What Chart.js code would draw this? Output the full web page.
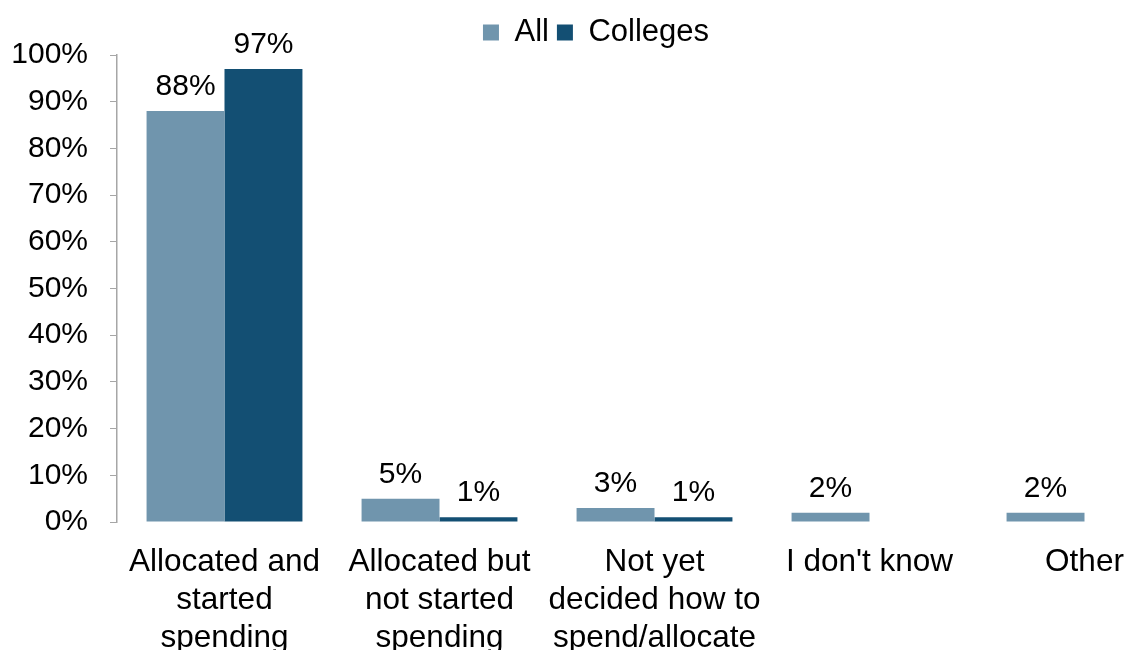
<!DOCTYPE html>
<html>
<head>
<meta charset="utf-8">
<script src="https://cdn.jsdelivr.net/npm/chart.js@4"></script>
<style>
	html, body { margin: 0; padding: 0; background: #fff; overflow: hidden; }
	#wrap { width: 1200px; height: 657px; }
</style>
</head>
<body>
<div id="wrap"><canvas id="chartDisplay"></canvas></div>
<script>
// categories (multi-line labels as drawn)
var categories = [
	["Allocated and", "started", "spending"],
	["Allocated but", "not started", "spending"],
	["Not yet", "decided how to", "spend/allocate"],
	"I don't know",
	"Other"
];
var allValues = [88, 5, 3, 2, 2];
var collegeValues = [97, 1, 1, null, null];
var yTicks = [0, 10, 20, 30, 40, 50, 60, 70, 80, 90, 100];

var fontFamily = "'Liberation Sans', Arial, sans-serif";

/**
 * Draw value labels above each bar
 */
var barLabels = {
	id: "barLabels",
	afterDatasetsDraw: function(chart) {
		var ctx = chart.ctx;
		ctx.save();
		ctx.font = "30px " + fontFamily;
		ctx.fillStyle = "#000";
		ctx.textAlign = "center";
		ctx.textBaseline = "alphabetic";
		chart.data.datasets.forEach(function(ds, i) {
			var meta = chart.getDatasetMeta(i);
			meta.data.forEach(function(bar, j) {
				var v = ds.data[j];
				if (v === null || v === undefined) return;
				ctx.fillText(v + "%", bar.x, bar.y - 16);
			});
		});
		ctx.restore();
	}
};

/**
 * Trim a few pixels off the bottom of the legend box
 */
var legendTrim = {
	id: "legendTrim",
	beforeLayout: function(chart) {
		var lg = chart.legend;
		if (!lg || lg._trimmed) return;
		var origFit = lg.fit;
		lg.fit = function() {
			origFit.call(this);
			this.height -= 3;
		};
		lg._trimmed = true;
	}
};

const barChartX = document.getElementById("chartDisplay");
new Chart(barChartX, {
	type: "bar",
	data: {
		labels: categories,
		datasets: [{
			label: "All",
			data: allValues,
			backgroundColor: "#7095AD",
			borderWidth: 0
		},
		{
			label: "Colleges",
			data: collegeValues,
			backgroundColor: "#134F73",
			borderWidth: 0
		}]
	},
	options: {
		responsive: true,
		maintainAspectRatio: false,
		animation: false,
		layout: { padding: { left: 0, right: 8, top: 9, bottom: 0 } },
		datasets: {
			bar: { barPercentage: 1, categoryPercentage: 0.725 }
		},
		plugins: {
			legend: {
				position: "top",
				labels: {
					boxWidth: 16,
					boxHeight: 16,
					padding: 8,
					color: "#000",
					font: { family: fontFamily, size: 31 }
				}
			},
			tooltip: { enabled: false }
		},
		scales: {
			x: {
				grid: { display: false, drawTicks: false },
				border: { display: false },
				afterFit: function(axis) {
					axis.paddingLeft = 0;
					axis.paddingRight = 0;
					axis.height = 135;
				},
				ticks: {
					padding: 21,
					color: "#000",
					maxRotation: 0,
					autoSkip: false,
					font: { family: fontFamily, size: 31.5, lineHeight: 38 / 31.5 }
				}
			},
			y: {
				min: 0,
				max: 100,
				afterBuildTicks: function(axis) {
					axis.ticks = yTicks.map(function(v) { return { value: v }; });
				},
				afterFit: function(axis) {
					axis.width = 117;
				},
				grid: { drawOnChartArea: false, tickLength: 7, color: "#A6A6A6" },
				border: { display: true, color: "#A6A6A6", width: 1.5 },
				ticks: {
					padding: 22,
					color: "#000",
					font: { family: fontFamily, size: 30 },
					callback: function(v) { return v + "%"; }
				}
			}
		}
	},
	plugins: [barLabels, legendTrim]
});
</script>
</body>
</html>
